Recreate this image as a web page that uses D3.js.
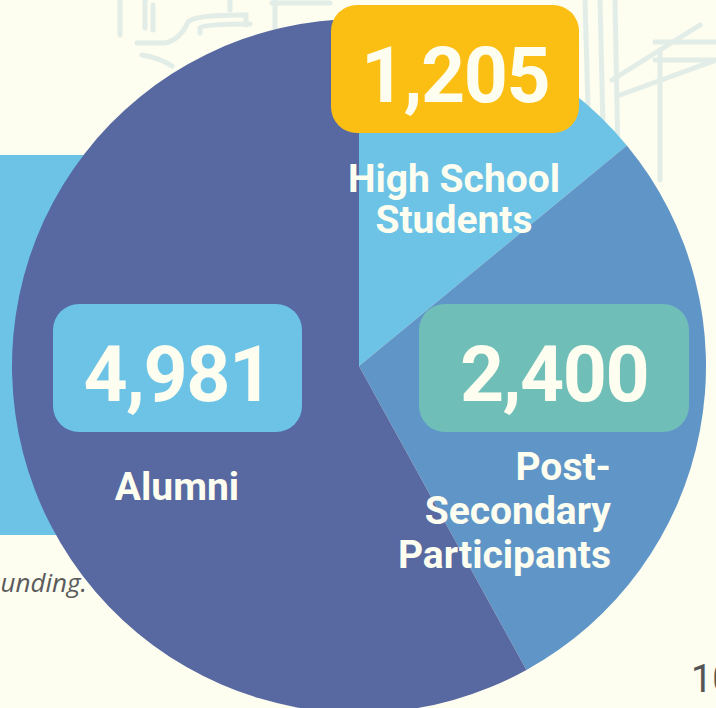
<!DOCTYPE html>
<html>
<head>
<meta charset="utf-8">
<script src="https://cdn.jsdelivr.net/npm/d3@7"></script>
<style>
  html, body { margin: 0; padding: 0; background: #fdfdf0; overflow: hidden; }
  svg { display: block; }
</style>
</head>
<body>
<svg width="716" height="708"></svg>
<script>
// participant groups, clockwise from 12 o'clock
var groups = ["High School Students", "Post-Secondary Participants", "Alumni"];
var counts = [1205, 2400, 4981];
var sliceColors = ["#6cc3e6", "#5f96c7", "#5868a1"];
var badgeColors = ["#fbbf14", "#6fbfb8", "#6cc3e6"];
var labelLines = [["High School", "Students"], ["Post-", "Secondary", "Participants"], ["Alumni"]];

var svg = d3.select("svg");
var cream = "#fdfdf0";

// faint line-art in the background
var deco = svg.append("g")
    .attr("fill", "none")
    .attr("stroke", "#e3ede8")
    .attr("stroke-width", 5)
    .attr("stroke-linecap", "round");
var decoPaths = [
    "M120,0 V35", "M145,0 V28", "M153,5 V30",
    "M137,43 H165 Q180,40 188,22 Q195,15 240,15 H246 V25",
    "M142,55 Q160,58 172,66",
    "M200,33 V28 Q203,24 250,24",
    "M230,0 V10", "M275,0 V70", "M272,3 H330",
    "M585,0 L590,180", "M600,0 L604,170", "M615,0 L618,160",
    "M655,42 H716", "M655,60 H716", "M660,50 V180",
    "M612,80 L700,25", "M620,95 L716,60"
];
deco.selectAll("path")
    .data(decoPaths)
    .join("path")
    .attr("d", function (d) { return d; });

// light blue panel at the left edge
svg.append("rect")
    .attr("x", 0)
    .attr("y", 155)
    .attr("width", 200)
    .attr("height", 380)
    .attr("fill", "#6cc3e6");

svg.append("text")
    .attr("x", 87)
    .attr("y", 592)
    .attr("text-anchor", "end")
    .attr("font-family", "'Open Sans', sans-serif")
    .attr("font-style", "italic")
    .attr("font-size", 26)
    .attr("fill", "#5b5b5b")
    .text("unding.");

// pie
var cx = 359, cy = 366, r = 347;

var pie = d3.pie().sort(null).value(function (d) { return d; });
var arc = d3.arc().innerRadius(0).outerRadius(r);
var arcs = pie(counts);

var g = svg.append("g").attr("transform", "translate(" + cx + "," + cy + ")");
g.selectAll("path.slice")
    .data(arcs)
    .join("path")
    .attr("class", "slice")
    .attr("d", arc)
    .attr("fill", function (d, i) { return sliceColors[i]; });

// badges and labels (offsets from the pie centre)
var badges = [
    { x: 331 - cx, y: 5 - cy, w: 248, h: 128 },
    { x: 419 - cx, y: 304 - cy, w: 270, h: 128 },
    { x: 53 - cx, y: 304 - cy, w: 249, h: 128 }
];
var numBaseline = [102 - cy, 401 - cy, 401 - cy];
var labelPos = [
    { x: 454 - cx, y: 192 - cy, anchor: "middle", lh: 41 },
    { x: 611 - cx, y: 480 - cy, anchor: "end", lh: 44 },
    { x: 177 - cx, y: 500 - cy, anchor: "middle", lh: 41 }
];

var fmt = d3.format(",");

var items = g.selectAll("g.item")
    .data(arcs)
    .join("g")
    .attr("class", "item");

items.append("rect")
    .attr("x", function (d, i) { return badges[i].x; })
    .attr("y", function (d, i) { return badges[i].y; })
    .attr("width", function (d, i) { return badges[i].w; })
    .attr("height", function (d, i) { return badges[i].h; })
    .attr("rx", 26)
    .attr("fill", function (d, i) { return badgeColors[i]; });

items.append("text")
    .attr("x", function (d, i) { return badges[i].x + badges[i].w / 2; })
    .attr("y", function (d, i) { return numBaseline[i]; })
    .attr("text-anchor", "middle")
    .attr("font-family", "Roboto, sans-serif")
    .attr("font-weight", 700)
    .attr("font-size", 77)
    .attr("letter-spacing", -1.5)
    .attr("fill", cream)
    .text(function (d) { return fmt(d.value); });

items.each(function (d, i) {
    var p = labelPos[i];
    var t = d3.select(this).append("text")
        .attr("text-anchor", p.anchor)
        .attr("font-family", "Roboto, sans-serif")
        .attr("font-weight", 700)
        .attr("font-size", 39)
        .attr("fill", cream);
    labelLines[i].forEach(function (line, k) {
        t.append("tspan")
            .attr("x", p.x)
            .attr("y", p.y + k * p.lh)
            .text(line);
    });
});

// page number
svg.append("text")
    .attr("x", 691)
    .attr("y", 692)
    .attr("font-family", "'Liberation Sans Narrow', 'Roboto', sans-serif")
    .attr("font-size", 38)
    .attr("fill", "#555555")
    .text("10");
</script>
</body>
</html>
